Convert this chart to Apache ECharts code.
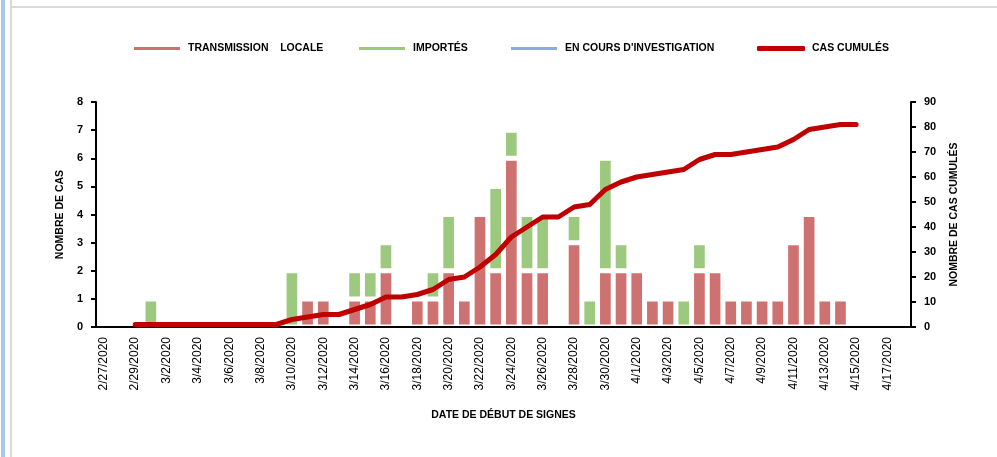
<!DOCTYPE html>
<html>
<head>
<meta charset="utf-8">
<script src="https://cdn.jsdelivr.net/npm/echarts@6/dist/echarts.min.js"></script>
<style>
  html, body { margin: 0; padding: 0; background: #fff; }
  #main { width: 997px; height: 457px; }
</style>
</head>
<body>
<div id="main"></div>
<script>
"use strict";

var dates = ['2/27/2020','2/28/2020','2/29/2020','3/1/2020','3/2/2020','3/3/2020','3/4/2020','3/5/2020','3/6/2020','3/7/2020',
    '3/8/2020','3/9/2020','3/10/2020','3/11/2020','3/12/2020','3/13/2020','3/14/2020','3/15/2020','3/16/2020','3/17/2020',
    '3/18/2020','3/19/2020','3/20/2020','3/21/2020','3/22/2020','3/23/2020','3/24/2020','3/25/2020','3/26/2020','3/27/2020',
    '3/28/2020','3/29/2020','3/30/2020','3/31/2020','4/1/2020','4/2/2020','4/3/2020','4/4/2020','4/5/2020','4/6/2020',
    '4/7/2020','4/8/2020','4/9/2020','4/10/2020','4/11/2020','4/12/2020','4/13/2020','4/14/2020','4/15/2020','4/16/2020',
    '4/17/2020','4/18/2020'];

var locale = ['-','-','-','-','-','-','-','-','-','-',
    '-','-','-',1,1,'-',1,1,2,'-',
    1,1,2,1,4,2,6,2,2,'-',
    3,'-',2,2,2,1,1,'-',2,2,
    1,1,1,1,3,4,1,1,'-','-',
    '-','-'];

var importes = ['-','-','-',1,'-','-','-','-','-','-',
    '-','-',2,'-','-','-',1,1,1,'-',
    '-',1,2,'-','-',3,1,2,2,'-',
    1,1,4,1,'-','-','-',1,1,'-',
    '-','-','-','-','-','-','-','-','-','-',
    '-','-'];

var investigation = [];

var cumules = ['-','-',1,1,1,1,1,1,1,1,
    1,1,3,4,5,5,7,9,12,12,
    13,15,19,20,24,29,36,40,44,44,
    48,49,55,58,60,61,62,63,67,69,
    69,70,71,72,75,79,80,81,81,'-',
    '-','-'];

var casTicks = [0, 8, 1];
var cumTicks = [0, 90, 10];

var font = '"Liberation Sans", Arial, sans-serif';

function legendAt(name, left, icon) {
    return {
        data: [name],
        left: left,
        top: 43,
        padding: 0,
        icon: icon,
        itemWidth: 48,
        itemHeight: 5,
        itemGap: 0,
        selectedMode: false,
        textStyle: { fontFamily: font, fontSize: 10.5, fontWeight: 'bold', color: '#000', padding: [0, 0, 0, 2] }
    };
}

var myChart = echarts.init(document.getElementById('main'));

var option = {
    backgroundColor: '#fff',
    animation: false,
    legend: [
        legendAt('TRANSMISSION    LOCALE', 132, 'rect'),
        legendAt('IMPORTÉS', 357, 'rect'),
        legendAt("EN COURS D'INVESTIGATION", 509, 'rect'),
        legendAt('CAS CUMULÉS', 757, 'roundRect')
    ],
    graphic: [
        { type: 'rect', shape: { x: 1, y: 0, width: 4, height: 457 }, style: { fill: '#a9c7e8' } },
        { type: 'rect', shape: { x: 10, y: 0, width: 2, height: 457 }, style: { fill: '#d9d9d9' } },
        { type: 'rect', shape: { x: 10, y: 6, width: 987, height: 2 }, style: { fill: '#d9d9d9' } }
    ],
    grid: { left: 96, right: 86, top: 102, bottom: 130 },
    xAxis: [{
        type: 'category',
        data: dates,
        boundaryGap: true,
        z: 3,
        name: 'DATE DE DÉBUT DE SIGNES',
        nameLocation: 'middle',
        nameGap: 83,
        nameTextStyle: { fontFamily: font, fontSize: 10.5, fontWeight: 'bold', color: '#000' },
        axisLine: { lineStyle: { color: '#000', width: 2 } },
        axisTick: { show: false },
        axisLabel: { interval: 1, rotate: 90, margin: 10, fontFamily: font, fontSize: 12, color: '#000' }
    }],
    yAxis: [{
        type: 'value',
        min: casTicks[0],
        max: casTicks[1],
        interval: casTicks[2],
        name: 'NOMBRE DE CAS',
        nameLocation: 'middle',
        nameRotate: 90,
        nameGap: 30,
        nameTextStyle: { fontFamily: font, fontSize: 10.5, fontWeight: 'bold', color: '#000' },
        splitLine: { show: false },
        axisLine: { show: true, lineStyle: { color: '#000', width: 2 } },
        axisTick: { show: true, length: 5, lineStyle: { color: '#000', width: 2 } },
        axisLabel: { margin: 13, fontFamily: font, fontSize: 11, fontWeight: 'bold', color: '#000' }
    }, {
        type: 'value',
        min: cumTicks[0],
        max: cumTicks[1],
        interval: cumTicks[2],
        position: 'right',
        name: 'NOMBRE DE CAS CUMULÉS',
        nameLocation: 'middle',
        nameRotate: 90,
        nameGap: 38,
        nameTextStyle: { fontFamily: font, fontSize: 10.5, fontWeight: 'bold', color: '#000' },
        splitLine: { show: false },
        axisLine: { show: true, lineStyle: { color: '#000', width: 2 } },
        axisTick: { show: true, length: 5, lineStyle: { color: '#000', width: 2 } },
        axisLabel: { margin: 13, fontFamily: font, fontSize: 11, fontWeight: 'bold', color: '#000' }
    }],
    series: [{
        name: 'TRANSMISSION    LOCALE',
        type: 'bar',
        stack: 'cas',
        barWidth: '100%',
        itemStyle: { color: '#cd7270', borderColor: '#fff', borderWidth: 2.5 },
        data: locale
    }, {
        name: 'IMPORTÉS',
        type: 'bar',
        stack: 'cas',
        barWidth: '100%',
        itemStyle: { color: '#9dc97f', borderColor: '#fff', borderWidth: 2.5 },
        data: importes
    }, {
        name: "EN COURS D'INVESTIGATION",
        type: 'bar',
        stack: 'cas',
        barWidth: '100%',
        itemStyle: { color: '#8faadc', borderColor: '#fff', borderWidth: 2.5 },
        data: investigation
    }, {
        name: 'CAS CUMULÉS',
        type: 'line',
        yAxisIndex: 1,
        symbol: 'none',
        z: 5,
        itemStyle: { color: '#c00000' },
        lineStyle: { color: '#c00000', width: 5, cap: 'round', join: 'round' },
        data: cumules
    }]
};

myChart.setOption(option);
</script>
</body>
</html>
